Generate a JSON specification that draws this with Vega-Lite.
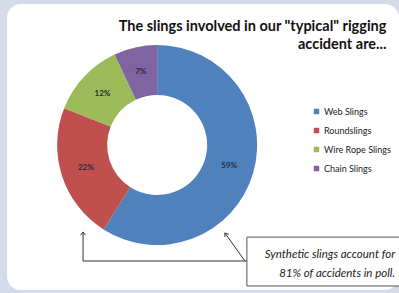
{
  "$schema": "https://vega.github.io/schema/vega-lite/v6.json",
  "width": 392,
  "height": 286,
  "autosize": {"type": "none"},
  "padding": {"left": 7, "top": 4, "right": 0, "bottom": 3},
  "background": "#d4dcea",
  "config": {
    "view": {"fill": "white", "stroke": null, "cornerRadius": 14},
    "font": "Lato"
  },
  "title": {
    "text": ["The slings involved in our \"typical\" rigging", "accident are..."],
    "anchor": "end",
    "orient": "top",
    "offset": -48,
    "dx": -17,
    "font": "Lato",
    "fontSize": 14.5,
    "fontWeight": "bold",
    "color": "#111111",
    "lineHeight": 18
  },
  "datasets": {
    "slings": [
      {"sling": "Web Slings", "pct": 0.59},
      {"sling": "Roundslings", "pct": 0.22},
      {"sling": "Wire Rope Slings", "pct": 0.12},
      {"sling": "Chain Slings", "pct": 0.07}
    ]
  },
  "layer": [
    {
      "data": {"name": "slings"},
      "mark": {"type": "arc", "outerRadius": 100, "innerRadius": 50},
      "encoding": {
        "x": {"datum": 38.3, "type": "quantitative", "scale": {"domain": [0, 100], "nice": false, "zero": false}, "axis": null},
        "y": {"datum": 50.7, "type": "quantitative", "scale": {"domain": [0, 100], "nice": false, "zero": false}, "axis": null},
        "theta": {"field": "pct", "type": "quantitative", "stack": true},
        "order": {"field": "pct", "sort": "descending"},
        "color": {
          "field": "sling",
          "type": "nominal",
          "sort": ["Web Slings", "Roundslings", "Wire Rope Slings", "Chain Slings"],
          "scale": {
            "domain": ["Web Slings", "Roundslings", "Wire Rope Slings", "Chain Slings"],
            "range": ["#4f81bd", "#c0504d", "#9bbb59", "#8064a2"]
          },
          "legend": {
            "orient": "none",
            "legendX": 305,
            "legendY": 103,
            "title": null,
            "symbolType": "square",
            "symbolSize": 30,
            "symbolStrokeWidth": 0,
            "labelFontSize": 9,
            "labelFont": "Lato",
            "labelColor": "#222222",
            "labelOffset": 3,
            "rowPadding": 9,
            "padding": 0
          }
        }
      }
    },
    {
      "data": {"name": "slings"},
      "mark": {"type": "text", "radius": 75, "fontSize": 8, "fontWeight": "bold", "color": "#1f2a3a", "font": "Lato"},
      "encoding": {
        "x": {"datum": 38.3, "type": "quantitative"},
        "y": {"datum": 50.7, "type": "quantitative"},
        "theta": {"field": "pct", "type": "quantitative", "stack": true},
        "order": {"field": "pct", "sort": "descending"},
        "text": {"field": "pct", "type": "quantitative", "format": ".0%"}
      }
    },
    {
      "data": {"values": [{}]},
      "mark": {"type": "rect", "fill": "white", "stroke": "#555555", "strokeWidth": 1},
      "encoding": {
        "x": {"datum": 61.2, "type": "quantitative"},
        "x2": {"datum": 101},
        "y": {"datum": 1.4, "type": "quantitative"},
        "y2": {"datum": 18.5}
      }
    },
    {
      "data": {"values": [{}]},
      "mark": {
        "type": "text",
        "text": ["Synthetic slings account for", "81% of accidents in poll."],
        "align": "right",
        "baseline": "middle",
        "fontStyle": "italic",
        "fontSize": 11.5,
        "lineHeight": 19,
        "font": "Lato",
        "color": "#222222"
      },
      "encoding": {
        "x": {"datum": 99.0, "type": "quantitative"},
        "y": {"datum": 12.4, "type": "quantitative"}
      }
    },
    {
      "data": {"values": [{}]},
      "mark": {"type": "rule", "color": "#333333", "strokeWidth": 1},
      "encoding": {
        "x": {"datum": 61.2, "type": "quantitative"},
        "x2": {"datum": 19.4},
        "y": {"datum": 10.14, "type": "quantitative"},
        "y2": {"datum": 10.14}
      }
    },
    {
      "data": {"values": [{}]},
      "mark": {"type": "rule", "color": "#333333", "strokeWidth": 1},
      "encoding": {
        "x": {"datum": 19.4, "type": "quantitative"},
        "x2": {"datum": 19.4},
        "y": {"datum": 10.14, "type": "quantitative"},
        "y2": {"datum": 20.3}
      }
    },
    {
      "data": {"values": [{}]},
      "mark": {"type": "rule", "color": "#333333", "strokeWidth": 1},
      "encoding": {
        "x": {"datum": 60.7, "type": "quantitative"},
        "x2": {"datum": 55.6},
        "y": {"datum": 10.14, "type": "quantitative"},
        "y2": {"datum": 19.9}
      }
    },
    {
      "data": {"values": [{}]},
      "mark": {"type": "point", "shape": "M-0.6,0.8L0,0L0.6,0.8", "filled": false, "stroke": "#333333", "strokeWidth": 1, "size": 64, "opacity": 1},
      "encoding": {
        "x": {"datum": 19.4, "type": "quantitative"},
        "y": {"datum": 20.3, "type": "quantitative"}
      }
    },
    {
      "data": {"values": [{}]},
      "mark": {"type": "point", "shape": "M-0.6,0.8L0,0L0.6,0.8", "filled": false, "stroke": "#333333", "strokeWidth": 1, "size": 64, "opacity": 1, "angle": -35},
      "encoding": {
        "x": {"datum": 55.6, "type": "quantitative"},
        "y": {"datum": 19.9, "type": "quantitative"}
      }
    }
  ]
}
